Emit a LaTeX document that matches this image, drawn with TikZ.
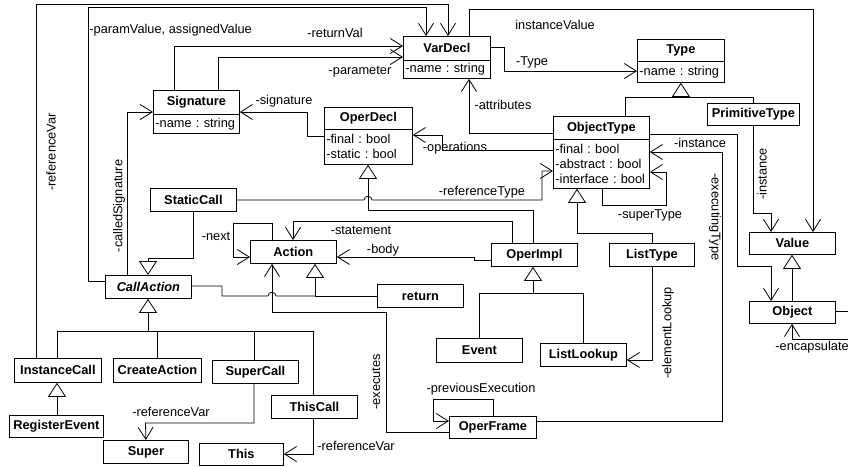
\documentclass[tikz,border=0pt]{standalone}
\usepackage{fontspec}
\setmainfont{Liberation Sans}
\usetikzlibrary{arrows.meta}
\frenchspacing

\begin{document}
\begin{tikzpicture}[x=1pt,y=-1pt,
  font=\fontsize{12.8}{15}\selectfont,
  line width=0.8pt,
  cls/.style={draw, rectangle, anchor=north west, inner sep=0pt, font=\fontsize{12.8}{15}\selectfont\bfseries},
  attrs/.style={draw, rectangle, anchor=north west, inner xsep=2pt, inner ysep=0pt, align=left},
  lbl/.style={inner sep=0pt},
  assoc/.style={-{Straight Barb[length=12pt,width=15pt]}},
  gen/.style={-{Triangle[length=14pt,width=18pt,fill=white]}},
]
\useasboundingbox (0,0) rectangle (848,466);
\fill[white] (0,0) rectangle (848,466);
\clip (0,0) rectangle (848,466);

% ---- classes ----
\node[cls, minimum width=87pt, minimum height=24pt] (vardecl) at (403,36) {VarDecl};
\node[attrs, text width=83pt, minimum height=18pt] (vardeclA) at (403,60) {-name : string};

\node[cls, minimum width=87pt, minimum height=22pt] (type) at (637,39) {Type};
\node[attrs, text width=83pt, minimum height=21pt] (typeA) at (637,61) {-name : string};

\node[cls, minimum width=86pt, minimum height=24pt] (sig) at (153,90) {Signature};
\node[attrs, text width=82pt, minimum height=19pt] (sigA) at (153,114) {-name : string};

\node[cls, minimum width=88pt, minimum height=22pt] (operdecl) at (324,107) {OperDecl};
\node[attrs, text width=84pt, minimum height=35pt] (operdeclA) at (324,129) {-final : bool\\-static : bool};

\node[cls, minimum width=96pt, minimum height=23pt] (objtype) at (553,116) {ObjectType};
\node[attrs, text width=92pt, minimum height=49pt] (objtypeA) at (553,139) {-final : bool\\-abstract : bool\\-interface : bool};

\node[cls, minimum width=92pt, minimum height=22pt] (primtype) at (707,103) {PrimitiveType};
\node[cls, minimum width=86pt, minimum height=23pt] (staticcall) at (150,188) {StaticCall};
\node[cls, minimum width=86pt, minimum height=23pt] (action) at (250,240) {Action};
\node[cls, minimum width=86pt, minimum height=23pt] (callaction) at (105,275) {\itshape CallAction};
\node[cls, minimum width=86pt, minimum height=23pt] (operimpl) at (491,243) {OperImpl};
\node[cls, minimum width=85pt, minimum height=23pt] (listtype) at (609,243) {ListType};
\node[cls, minimum width=86pt, minimum height=22pt] (value) at (749,232) {Value};
\node[cls, minimum width=86pt, minimum height=22pt] (object) at (749,301) {Object};
\node[cls, minimum width=86pt, minimum height=23pt] (return) at (377,284) {return};
\node[cls, minimum width=86pt, minimum height=24pt] (event) at (436,338) {Event};
\node[cls, minimum width=86pt, minimum height=23pt] (listlookup) at (540,343) {ListLookup};
\node[cls, minimum width=87pt, minimum height=22pt] (operframe) at (449,416) {OperFrame};
\node[cls, minimum width=87pt, minimum height=24pt] (instancecall) at (14,358) {InstanceCall};
\node[cls, minimum width=88pt, minimum height=24pt] (createaction) at (113,358) {CreateAction};
\node[cls, minimum width=86pt, minimum height=23pt] (supercall) at (212,360) {SuperCall};
\node[cls, minimum width=86pt, minimum height=23pt] (thiscall) at (271,395) {ThisCall};
\node[cls, minimum width=94pt, minimum height=22pt] (registerevent) at (9,415) {RegisterEvent};
\node[cls, minimum width=85pt, minimum height=23pt] (super) at (103,440) {Super};
\node[cls, minimum width=84pt, minimum height=22pt] (this) at (199,443) {This};

% ---- associations ----
\draw[assoc] (instancecall.north -| 36,0) -- (36,4) -- (448,4) -- (vardecl.north -| 448,0);
\node[lbl, rotate=90] (lRefVarA) at (51,152) {-referenceVar};

\draw[assoc] (callaction.west |- 0,281) -- (88,281) -- (88,7) -- (426,7) -- (vardecl.north -| 426,0);
\node[lbl, anchor=west] (lParam) at (89,30) {-paramValue, assignedValue};

\draw[assoc] (sig.north -| 174,0) -- (174,46) -- (vardecl.west |- 0,46);
\node[lbl] (lRet) at (335,33) {-returnVal};

\draw[assoc] (sig.north -| 218,0) -- (218,57) -- (vardecl.west |- 0,57);
\node[lbl] (lPar) at (360,72) {-parameter};

\draw[assoc] (vardecl.north -| 469,0) -- (469,9) -- (813,9) -- (value.north -| 813,0);
\node[lbl, anchor=west] (lInstVal) at (515,25) {instanceValue};

\draw[assoc] (vardecl.east |- 0,47) -- (504,47) -- (504,71) -- (typeA.west |- 0,71);
\node[lbl] (lType) at (532,62) {-Type};

\draw[assoc] (objtype.west |- 0,133) -- (469,133) -- (vardeclA.south -| 469,0);
\node[lbl] (lAttr) at (503,105) {-attributes};

\draw[assoc] (operdeclA.west |- 0,136) -- (307,136) -- (307,112) -- (sig.east |- 0,112);
\node[lbl] (lSig) at (284,101) {-signature};

\draw[assoc] (objtypeA.west |- 0,150) -- (442,150) -- (442,135) -- (operdeclA.east |- 0,135);
\node[lbl] (lOps) at (455,148) {-operations};

\draw[assoc] (staticcall.east |- 0,200) -- (364,200) .. controls (364,195) and (372,195) .. (372,200)
  -- (542,200) -- (542,171) -- (objtypeA.west |- 0,171);
\node[lbl] (lRefType) at (482,192) {-referenceType};

\draw[assoc] (operimpl.north -| 512,0) -- (512,221) -- (293,221) -- (action.north -| 293,0);
\node[lbl] (lStmt) at (361,230) {-statement};

\draw[assoc] (operimpl.west |- 0,260) -- (474,260) -- (474,257) -- (action.east |- 0,257);
\node[lbl] (lBody) at (383,250) {-body};

\draw[assoc] (action.north -| 272,0) -- (272,223) -- (233,223) -- (233,257) -- (action.west |- 0,257);
\node[lbl] (lNext) at (216,236) {-next};

\draw[assoc] (callaction.north -| 127,0) -- (127,112) -- (sig.west |- 0,112);
\node[lbl, rotate=90] (lCalled) at (119,206) {-calledSignature};

\draw[assoc] (operframe.west |- 0,432) -- (386,432) -- (386,312) -- (272,312) -- (action.south -| 272,0);
\node[lbl, rotate=90] (lExec) at (376,382) {-executes};

\draw[assoc] (operframe.north -| 493,0) -- (493,399) -- (433,399) -- (433,421) -- (operframe.west |- 0,421);
\node[lbl] (lPrev) at (481,389) {-previousExecution};

\draw[assoc] (operframe.east |- 0,421) -- (722,421) -- (722,152) -- (objtypeA.east |- 0,152);
\node[lbl, rotate=-90] (lExecType) at (715,217) {-executingType};

\draw[assoc] (objtype.east |- 0,134) -- (737,134) -- (737,266) -- (771,266) -- (object.north -| 771,0);
\node[lbl] (lInst) at (700,143) {-instance};

\draw[assoc] (objtypeA.south -| 602,0) -- (602,205) -- (666,205) -- (666,172) -- (objtypeA.east |- 0,172);
\node[lbl] (lSuper) at (650,215) {-superType};

\draw[assoc] (primtype.south -| 753,0) -- (753,213) -- (771,213) -- (value.north -| 771,0);
\node[lbl, rotate=90] (lInstPT) at (762,174) {-instance};

\draw[assoc] (listtype.south -| 652,0) -- (652,360) -- (listlookup.east |- 0,360);
\node[lbl, rotate=90] (lElem) at (668,333) {-elementLookup};

\draw[assoc] (supercall.south -| 254,0) -- (254,423) -- (145.5,423) -- (super.north);
\node[lbl] (lRefVarB) at (171,412) {-referenceVar};

\draw[assoc] (thiscall.south -| 313,0) -- (313,454) -- (this.east |- 0,454);
\node[lbl, anchor=west] (lRefVarC) at (317,446) {-referenceVar};

\draw[assoc] (object.east |- 0,311) -- (860,311) -- (860,339) -- (792,339) -- (object.south -| 792,0);
\node[lbl, anchor=west] (lEnc) at (775,347) {-encapsulate};

% ---- generalizations ----
\draw[gen] (operimpl.north -| 533,0) -- (533,210) -- (368,210) -- (operdeclA.south -| 368,0);

\draw[gen] (staticcall.south -| 193,0) -- (193,258) -- (148,258) -- (callaction.north -| 148,0);

\draw (callaction.east |- 0,286) -- (222,286) -- (222,296) -- (268,296)
  .. controls (268,291) and (276,291) .. (276,296) -- (315,296);
\draw (return.west |- 0,296) -- (315,296);
\draw[gen] (315,296) -- (action.south -| 315,0);

\draw (objtype.north -| 625,0) -- (625,97) -- (753,97) -- (primtype.north -| 753,0);
\draw[gen] (typeA.south |- 0,97) -- (typeA.south);

\draw[gen] (object.north -| 792,0) -- (value.south -| 792,0);

\draw[gen] (listtype.north -| 652,0) -- (652,233) -- (577,233) -- (objtypeA.south -| 577,0);

\draw (instancecall.north -| 57,0) -- (57,331) -- (313,331) -- (thiscall.north -| 313,0);
\draw (createaction.north -| 157,0) -- (157,331);
\draw (supercall.north -| 254,0) -- (254,331);
\draw[gen] (148,331) -- (callaction.south -| 148,0);

\draw[gen] (registerevent.north -| 57,0) -- (instancecall.south -| 57,0);

\draw (event.north -| 479,0) -- (479,293) -- (583,293) -- (listlookup.north -| 583,0);
\draw[gen] (533,293) -- (operimpl.south -| 533,0);
\end{tikzpicture}
\end{document}
